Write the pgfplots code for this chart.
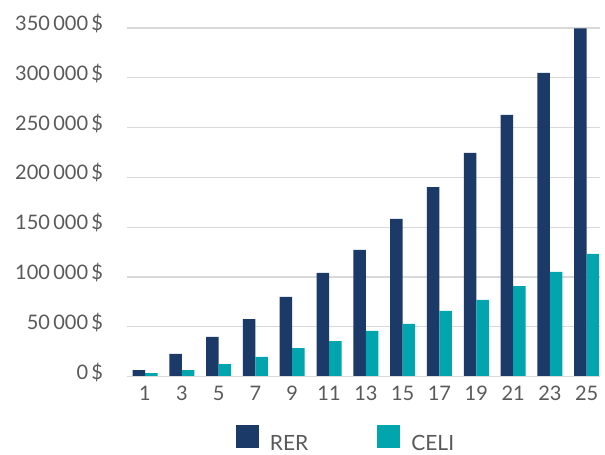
\documentclass[border=0pt]{standalone}
\usepackage{pgfplots}
\pgfplotsset{compat=1.18}
\usepackage{fontspec}
\setmainfont{Lato}
\definecolor{rer}{HTML}{1B3A68}
\definecolor{celi}{HTML}{00A5AD}
\definecolor{gridc}{HTML}{D9D9D9}
\definecolor{txt}{HTML}{595959}
\begin{document}
\begin{tikzpicture}
\path[use as bounding box] (0,0) rectangle (605pt,455pt);
\begin{axis}[
  at={(126.6pt,78.3pt)}, anchor=south west,
  scale only axis, width=473pt, height=348.7pt,
  ybar=0pt, bar width=12.5pt,
  xmin=0, xmax=25.7, ymin=0, ymax=350000,
  xtick={1,3,...,25},
  xticklabels={1,3,5,7,9,11,13,15,17,19,21,23,25},
  ytick={0,50000,...,350000},
  yticklabels={0\,\$,50\,000\,\$,100\,000\,\$,150\,000\,\$,200\,000\,\$,250\,000\,\$,300\,000\,\$,350\,000\,\$},
  scaled y ticks=false,
  axis line style={draw=none},
  ymajorgrids, grid style={gridc, line width=1.2pt},
  major tick length=0pt,
  tick label style={font=\fontsize{20}{24}\selectfont, text=txt},
  yticklabel style={anchor=base east, xshift=-20pt, yshift=-2.5pt},
  xticklabel style={yshift=-6pt},
  legend columns=2,
  legend style={draw=none, at={(0.231,-0.1773)}, anchor=west, inner sep=0pt, outer sep=0pt,
    font=\fontsize{21}{24}\selectfont, text=txt,
    nodes={inner sep=0pt},
    /tikz/every odd column/.append style={column sep=11pt},
    /tikz/every even column/.append style={column sep=69pt}},
  legend image code/.code={\fill[#1] (0pt,-4pt) rectangle (23pt,19pt);},
]
\addplot[fill=rer, draw=none] coordinates {
(1,6700) (3,22800) (5,39900) (7,57900) (9,80000) (11,104100) (13,127200)
(15,158300) (17,190400) (19,224600) (21,262700) (23,304900) (25,349500)};
\addplot[fill=celi, draw=none] coordinates {
(1,3700) (3,6700) (5,12700) (7,19800) (9,28800) (11,35800) (13,45900)
(15,52900) (17,66000) (19,77000) (21,91000) (23,105100) (25,123200)};
\draw[gridc, line width=1.2pt] (axis cs:0,0) -- (axis cs:25.7,0);
\legend{RER,CELI}
\end{axis}
\end{tikzpicture}
\end{document}
